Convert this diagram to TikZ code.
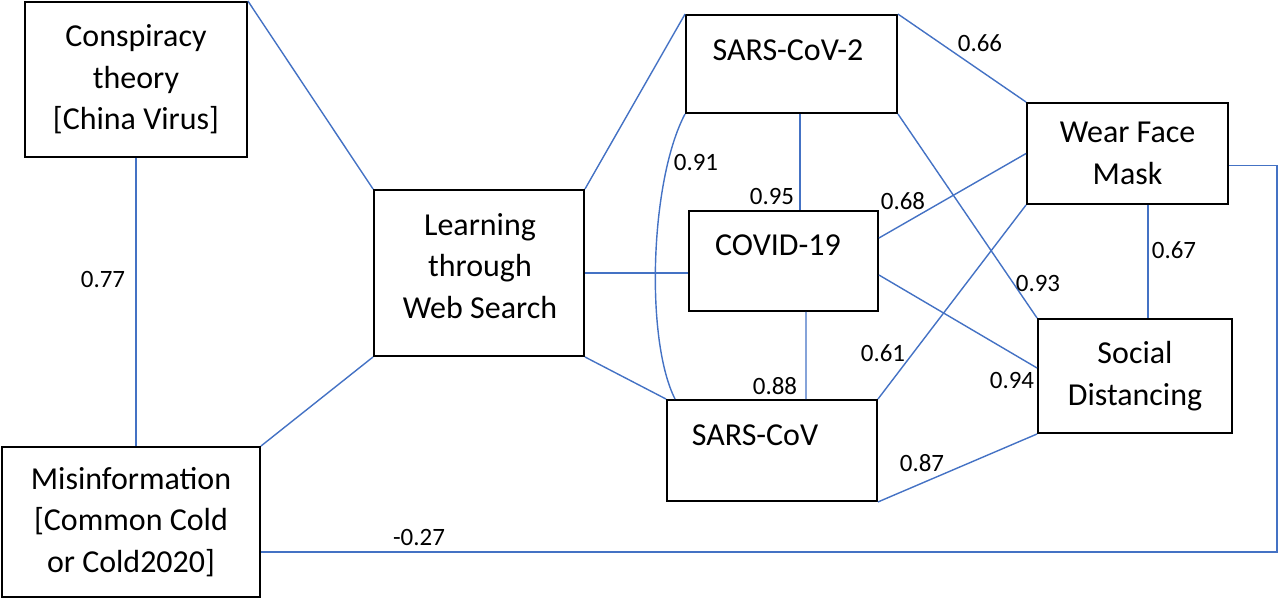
\documentclass[tikz,border=0pt]{standalone}
\usepackage{fontspec}
\setmainfont{Carlito}
\usetikzlibrary{positioning}
\usetikzlibrary{calc}
\definecolor{linkblue}{HTML}{4472C4}

\begin{document}
\begin{tikzpicture} [x=0.02cm, y=-0.02cm]
    % styles for the boxes, the blue links and the weights
    \tikzstyle{box} = [draw=black, line width=1.1pt, rectangle, align=center, inner sep=0pt,
        font=\fontsize{18.2}{23.6}\selectfont]
    \tikzstyle{word} = [inner sep=0pt, align=center, font=\fontsize{18.2}{23.6}\selectfont]
    \tikzstyle{link} = [draw=linkblue, line width=0.8pt]
    \tikzstyle{weight} = [inner sep=0pt, font=\fontsize{14.2}{17}\selectfont]

    \useasboundingbox (0,0) rectangle (1280,599);

    % left column and the web search box
    \node (consp) [box, minimum width=4.44cm, minimum height=3.1cm] at (136,79.5) {Conspiracy\\theory\\{[}China Virus]};
    \node (misinfo) [box, minimum width=5.16cm, minimum height=3.0cm] at (131,522) {Misinformation\\{[}Common Cold\\or Cold2020]};
    \node (learn) [box, minimum width=4.2cm, minimum height=3.32cm] at (479,273) {};
    \node (learntext) [word] at ($(learn)+(1,-7)$) {Learning\\through\\Web Search};

    % the three virus names
    \node (sars2) [box, minimum width=4.22cm, minimum height=1.96cm] at (791.5,64) {};
    \node (sars2text) [word] at ($(sars2)+(-3.5,-14)$) {SARS-CoV-2};
    \node (covid) [box, minimum width=3.78cm, minimum height=2.0cm] at (783.5,261) {};
    \node (covidtext) [word] at ($(covid)+(-5.5,-16)$) {COVID-19};
    \node (sars) [box, minimum width=4.2cm, minimum height=2.02cm] at (772,450.5) {};
    \node (sarstext) [word] at ($(sars)+(-17,-15.5)$) {SARS-CoV};

    % the two behaviours
    \node (mask) [box, minimum width=4.02cm, minimum height=2.02cm] at (1127.5,153.5) {Wear Face\\Mask};
    \node (social) [box, minimum width=3.88cm, minimum height=2.28cm] at (1135,376) {Social\\Distancing};

    % links from the left column
    \draw[link] (consp.north east) -- (learn.north west);
    \draw[link] (consp.south) -- (consp.south |- misinfo.north);
    \draw[link] (misinfo.north east) -- (learn.south west);
    \draw[link] (learn.north east) -- (sars2.north west);
    \draw[link] (learn.east) -- (learn.east -| covid.west);
    \draw[link] (learn.south east) -- (sars.north west);

    % links between the virus names
    \draw[link] ($(sars2.south)+(8.5,0)$) -- ($(covid.north)+(16.5,0)$);
    \draw[link] (sars2.south west) .. controls (650,180) and (645,340) .. ($(sars.north west)+(9,0)$);
    \draw[link] ($(covid.south)+(22.5,0)$) -- ($(sars.north)+(34,0)$);

    % links to the behaviours
    \draw[link] (sars2.north east) -- (mask.north west);
    \draw[link] (sars2.south east) -- (social.north west);
    \draw[link] ($(covid.east)+(0,-23)$) -- (mask.west);
    \draw[link] ($(covid.east)+(0,14)$) -- ($(social.west)+(0,-8)$);
    \draw[link] (sars.north east) -- (mask.south west);
    \draw[link] (sars.south east) -- (social.south west);
    \coordinate (maskfoot) at ($(mask.south)+(20.5,0)$);
    \draw[link] (maskfoot) -- (maskfoot |- social.north);
    \draw[link] ($(mask.east)+(0,12)$) -- ++(48,0) |- ($(misinfo.east)+(0,30)$);

    % weights on the links
    \foreach \val/\px/\py [count=\i] in {0.77/103/279, 0.91/696/162, 0.95/772/196, 0.68/903/201,
        0.66/980/43, 0.93/1038/283, 0.67/1174/250, 0.61/883/353, 0.88/775/386,
        0.94/1012/380, 0.87/922/463, -0.27/419/537} {
        \node (w\i) [weight] at (\px,\py) {\val};
    }
\end{tikzpicture}
\end{document}
